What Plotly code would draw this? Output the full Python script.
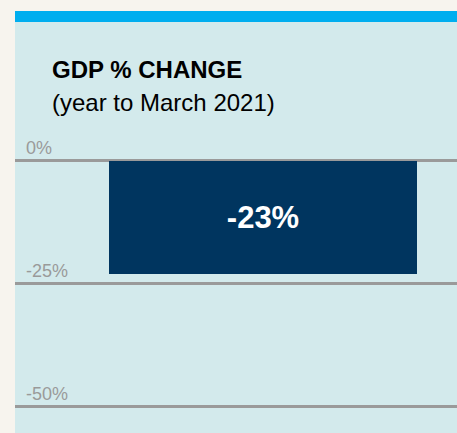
import plotly.graph_objects as go

categories = ["GDP"]
values = [-23]
tick_values = [0, -25, -50]
tick_labels = ["0%", "-25%", "-50%"]
title = "GDP % CHANGE"
subtitle = "(year to March 2021)"

W, H = 457, 433
ML, MT = 15, 22
PW, PH = W - ML, H - MT

def py(px):  # pixel y -> paper y
    return 1 - (px - MT) / PH

def pxx(px):  # pixel x -> paper x
    return (px - ML) / PW

fig = go.Figure()
fig.add_trace(go.Bar(
    x=categories, y=values, width=0.7,
    marker=dict(color="#00355f", line=dict(width=0)),
    text=[f"{v}%" for v in values],
    textposition="inside", insidetextanchor="middle",
    textfont=dict(color="white", size=31, family="Liberation Sans"),
    texttemplate="<b>%{text}</b>",
    hoverinfo="skip",
))

annotations = []
for v, lab in zip(tick_values, tick_labels):
    annotations.append(dict(
        x=pxx(24), xref="paper", xanchor="left",
        y=v, yref="y", yanchor="bottom", yshift=1,
        text=lab, showarrow=False,
        font=dict(size=18, color="#9a9a9a", family="Liberation Sans"),
    ))
annotations.append(dict(
    x=pxx(50), xref="paper", xanchor="left",
    y=py(70), yref="paper", yanchor="middle",
    text=f"<b>{title}</b>", showarrow=False,
    font=dict(size=24, color="#000000", family="Liberation Sans"),
))
annotations.append(dict(
    x=pxx(50), xref="paper", xanchor="left",
    y=py(102), yref="paper", yanchor="middle",
    text=subtitle, showarrow=False,
    font=dict(size=24, color="#000000", family="Liberation Sans"),
))

fig.update_layout(
    width=W, height=H,
    margin=dict(l=ML, r=0, t=MT, b=0, pad=0),
    paper_bgcolor="#f7f4ee",
    plot_bgcolor="#d3eaec",
    showlegend=False,
    xaxis=dict(range=[-0.5635, 0.4405], showticklabels=False, showgrid=False,
               zeroline=False, fixedrange=True),
    yaxis=dict(range=[-55.3, 28.25], tickvals=tick_values, showticklabels=False,
               showgrid=True, gridcolor="#9a9a9a", gridwidth=2.5,
               zeroline=False, fixedrange=True),
    shapes=[dict(type="rect", xref="paper", yref="paper",
                 x0=0, x1=1, y0=1, y1=1 + 11 / PH,
                 fillcolor="#00aeef", line=dict(width=0), layer="above")],
    annotations=annotations,
    bargap=0,
)

fig.write_html("out.html", config={"displayModeBar": False},
               post_script="document.body.style.margin='0px';document.body.style.overflow='hidden';")
